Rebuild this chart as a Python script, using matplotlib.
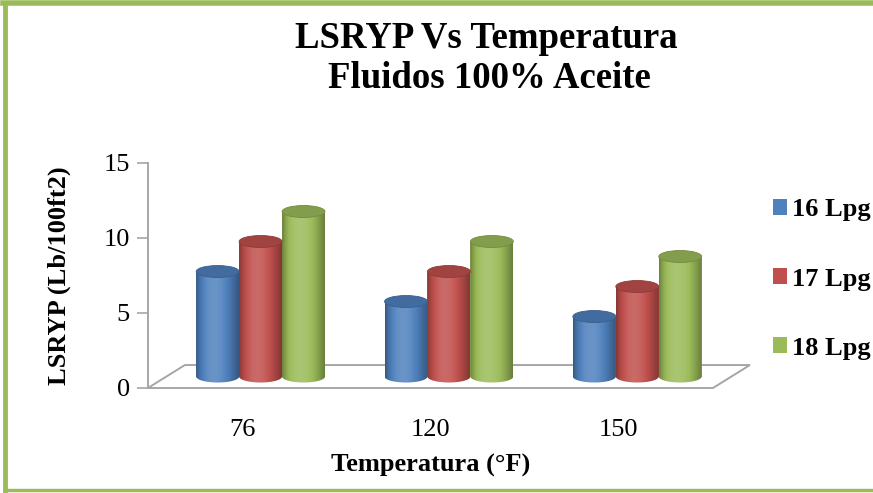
import numpy as np
import matplotlib.pyplot as plt
from matplotlib.patches import Ellipse, Polygon
from matplotlib.lines import Line2D
from matplotlib.colors import to_rgb

temps = ["76", "120", "150"]
series = ["16 Lpg", "17 Lpg", "18 Lpg"]
lpg16 = [7, 5, 4]
lpg17 = [9, 7, 6]
lpg18 = [11, 9, 8]
colors = ["#4F81BD", "#C0504D", "#9BBB59"]

plt.rcParams["font.family"] = ["Liberation Serif", "DejaVu Serif"]

fig = plt.figure(figsize=(8.73, 4.93), dpi=100)
ax = fig.add_axes([0.1695, 0.213, 0.6472, 0.4564])
ax.set_xlim(-0.5, 2.5)
ax.set_ylim(0, 15)

# depth of the floor (data units) and cylinder geometry
DX, DY = 0.196, 1.53
BAR_W = 0.228
CAP_H = 0.8
base = DY / 2


def shade(rgb, s):
    rgb = np.asarray(rgb)
    if s < 1:
        return rgb * s
    return rgb + (1 - rgb) * (s - 1)


def cylinder_gradient(color, n=80):
    rgb = to_rgb(color)
    t = np.linspace(0, 1, n)
    s = 0.68 + 0.47 * np.sin(np.pi * t ** 0.8)
    row = np.array([shade(rgb, v) for v in s])
    return np.clip(row[np.newaxis, :, :], 0, 1)


# floor
floor = Polygon([(-0.5, 0), (2.5, 0), (2.5 + DX, DY), (-0.5 + DX, DY)],
                closed=True, facecolor="white", edgecolor="#a6a6a6",
                lw=1.4, clip_on=False, zorder=1)
ax.add_patch(floor)

x = np.arange(len(temps))
handles = []
for j, (vals, col, lab) in enumerate(zip([lpg16, lpg17, lpg18], colors, series)):
    xs = x + DX / 2 + (j - 1) * BAR_W
    bars = ax.bar(xs, vals, width=BAR_W, bottom=base, color=col,
                  label=lab, zorder=2, clip_on=False)
    handles.append(bars)
    grad = cylinder_gradient(col)
    for xc, v in zip(xs, vals):
        top = base + v
        th = np.linspace(np.pi, 2 * np.pi, 60)
        outline = [(xc - BAR_W / 2, top)]
        outline += list(zip(xc + BAR_W / 2 * np.cos(th),
                            base + CAP_H / 2 * np.sin(th)))
        outline += [(xc + BAR_W / 2, top)]
        clip = Polygon(outline, closed=True, transform=ax.transData)
        im = ax.imshow(grad, extent=(xc - BAR_W / 2, xc + BAR_W / 2,
                                     base - CAP_H / 2, top),
                       aspect="auto", zorder=3, interpolation="bilinear")
        im.set_clip_path(clip)
        cap = Ellipse((xc, top), BAR_W, CAP_H, facecolor=shade(to_rgb(col), 0.84),
                      edgecolor=shade(to_rgb(col), 0.74), lw=0.6,
                      zorder=4, clip_on=False)
        ax.add_patch(cap)

ax.set_xlim(-0.5, 2.5)
ax.set_ylim(0, 15)

for side in ["top", "right", "bottom"]:
    ax.spines[side].set_visible(False)
ax.spines["left"].set_color("#a6a6a6")
ax.spines["left"].set_linewidth(1.4)

ax.set_yticks([0, 5, 10, 15])
ax.tick_params(axis="y", length=8, width=1.2, color="#a6a6a6",
               labelsize=19, pad=5)
ax.set_xticks(x)
ax.set_xticklabels(temps)
ax.tick_params(axis="x", length=0, labelsize=19, pad=22)

ax.set_ylabel("LSRYP (Lb/100ft2)", fontsize=19, fontweight="bold")
ax.yaxis.set_label_coords(-0.136, 0.5)
ax.set_xlabel("Temperatura (°F)", fontsize=19, fontweight="bold")
ax.xaxis.set_label_coords(0.5, -0.295)

fig.legend(handles=handles, labels=series, loc="center left",
           bbox_to_anchor=(0.885, 0.434), frameon=False,
           prop={"weight": "bold", "size": 19}, labelspacing=1.75,
           handlelength=0.55, handleheight=0.55, handletextpad=0.2,
           borderpad=0, borderaxespad=0)

fig.text(0.557, 1 - 38 / 493, "LSRYP Vs Temperatura", ha="center", va="center",
         fontsize=26.5, fontweight="bold")
fig.text(0.561, 1 - 79 / 493, "Fluidos 100% Aceite", ha="center", va="center",
         fontsize=26.5, fontweight="bold")

# green frame on the top, left and bottom edges
green = "#9BBB59"
W, H = 873, 493
fig.add_artist(Line2D([3 / W, 1], [1 - 3 / H, 1 - 3 / H], color=green, lw=4,
                      transform=fig.transFigure))
fig.add_artist(Line2D([5 / W, 5 / W], [1 - 3 / H, 3 / H], color=green, lw=3.5,
                      transform=fig.transFigure))
fig.add_artist(Line2D([5 / W, 1], [3 / H, 3 / H], color=green, lw=2.5,
                      transform=fig.transFigure))

fig.savefig("out.png", dpi=100)
